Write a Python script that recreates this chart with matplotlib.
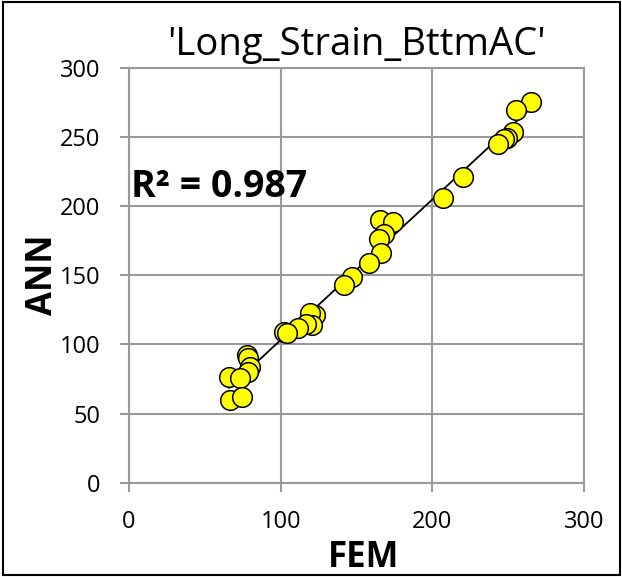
import numpy as np
import matplotlib.pyplot as plt

plt.rcParams['font.family'] = ['Open Sans', 'DejaVu Sans']

# FEM vs ANN values
fem = [265, 255, 253, 249, 247, 243, 220.5, 207, 165.5, 174, 168, 165, 166,
       158, 147, 141.5, 122.5, 119.5, 120.5, 117, 111.5, 102, 104,
       78, 78.5, 80, 78.5, 66, 73, 66.5, 74.5]
ann = [275, 269, 253.5, 249, 248, 245, 221, 205.5, 189.5, 188.5, 180, 176, 166,
       158.5, 149, 143, 121, 122.5, 114, 115, 111.5, 109, 108,
       92, 90, 84, 80, 76.5, 75.5, 60, 62]
r2_shown = 0.987  # value printed on the chart

slope, icpt = np.polyfit(fem, ann, 1)

fig = plt.figure(figsize=(6.22, 5.77), dpi=100)
ax = fig.add_axes([0.2074, 0.1633, 0.7316, 0.7197])

grid_c = '#999999'
ax.set_xlim(0, 300)
ax.set_ylim(0, 300)
ax.set_xticks([0, 100, 200, 300])
ax.set_yticks([0, 50, 100, 150, 200, 250, 300])
ax.grid(True, color=grid_c, lw=1.5)
for s in ax.spines.values():
    s.set_color(grid_c)
    s.set_linewidth(1.5)
ax.tick_params(direction='out', length=6.5, width=1.5, color=grid_c,
               labelsize=17)
ax.tick_params(axis='x', pad=13)
ax.tick_params(axis='y', pad=14)
ax.set_axisbelow(True)

xs = np.array([min(fem), max(fem)])
ax.plot(xs, slope * xs + icpt, color='black', lw=1.3, zorder=2)
ax.scatter(fem, ann, s=200, facecolor='#FFFF00', edgecolor='black',
           linewidth=1.1, zorder=3, clip_on=False)

ax.set_title("'Long_Strain_BttmAC'", fontsize=27.5, pad=9)
ax.set_xlabel('FEM', fontsize=25, fontweight='bold')
ax.xaxis.set_label_coords(0.516, -0.137)
ax.set_ylabel('ANN', fontsize=25, fontweight='bold')
ax.yaxis.set_label_coords(-0.149, 0.5)
ax.text(1.5, 206.5, f'R² = {r2_shown:.3f}', fontsize=27, fontweight='bold',
        ha='left', va='baseline')

fig.add_artist(plt.Rectangle((0.005, 0.004), 0.991, 0.993, transform=fig.transFigure,
                             fill=False, edgecolor='black', lw=1.5))

fig.savefig('out.png', dpi=100)
